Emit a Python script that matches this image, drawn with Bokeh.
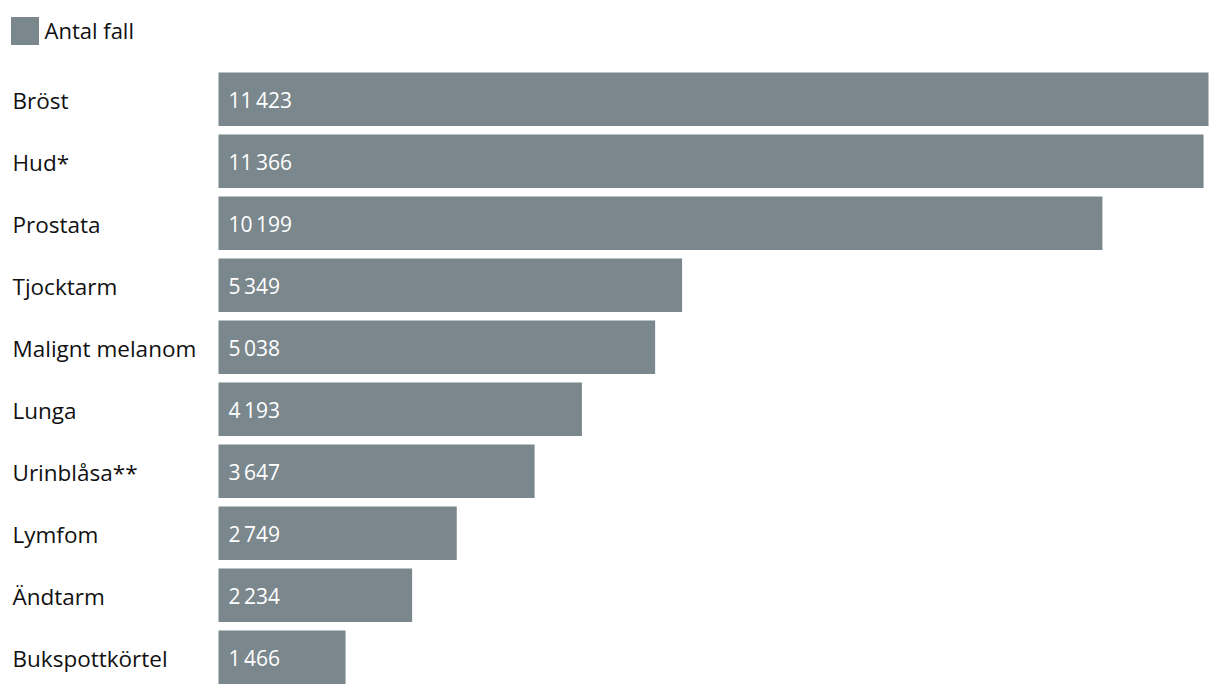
from bokeh.plotting import figure
from bokeh.models import Range1d, ColumnDataSource, LabelSet, Legend, LegendItem
from bokeh.core.properties import value
from bokeh.embed import file_html
from bokeh.resources import INLINE

categories = ["Bröst", "Hud*", "Prostata", "Tjocktarm", "Malignt melanom",
              "Lunga", "Urinblåsa**", "Lymfom", "Ändtarm", "Bukspottkörtel"]
antal_fall = [11423, 11366, 10199, 5349, 5038, 4193, 3647, 2749, 2234, 1466]
series_name = "Antal fall"

BAR_COLOR = "#7a878c"
FONT = "Open Sans"

W, H = 1220, 694
left_px, right_px = 218, 1208
units_per_px = max(antal_fall) / (right_px - left_px)
pitch = 62.0
first_center = 98.75

x0 = -left_px * units_per_px
x1 = (W - left_px) * units_per_px
y_top = -first_center / pitch
y_bot = (H - first_center) / pitch

def fmt(v):
    return f"{v:,}".replace(",", "\u2009")

src = ColumnDataSource(dict(
    y=list(range(len(categories))),
    value=antal_fall,
    cat=categories,
    label=[fmt(v) for v in antal_fall],
))

p = figure(width=W, height=H, output_backend="svg", toolbar_location=None,
           x_range=Range1d(x0, x1), y_range=Range1d(y_bot, y_top),
           min_border=0, outline_line_color=None)
p.axis.visible = False
p.grid.visible = False
p.background_fill_color = "white"
p.border_fill_color = "white"

bars = p.hbar(y="y", left=0, right="value", height=53.5 / pitch, source=src,
              fill_color=BAR_COLOR, line_color=None)

cat_labels = LabelSet(x=12, x_units="screen", y="y", text="cat", source=src,
                      y_offset=-1,
                      text_font=value(FONT), text_font_size="22.5px", text_color="#111111",
                      text_baseline="middle", text_align="left")
val_labels = LabelSet(x=0, y="y", text="label", source=src, x_offset=10,
                      y_offset=-1,
                      text_font=value(FONT), text_font_size="21px", text_color="white",
                      text_baseline="middle", text_align="left")
p.add_layout(cat_labels)
p.add_layout(val_labels)

legend = Legend(items=[LegendItem(label=series_name, renderers=[bars])],
                location=(6.5, H - 12.5 - 35), orientation="horizontal",
                glyph_width=35, glyph_height=35, label_standoff=3,
                label_text_font=FONT, label_text_font_size="22px",
                label_text_color="#111111", padding=0, margin=0,
                border_line_color=None, background_fill_alpha=0)
p.add_layout(legend)

open("out.html", "w").write(file_html(p, INLINE))
